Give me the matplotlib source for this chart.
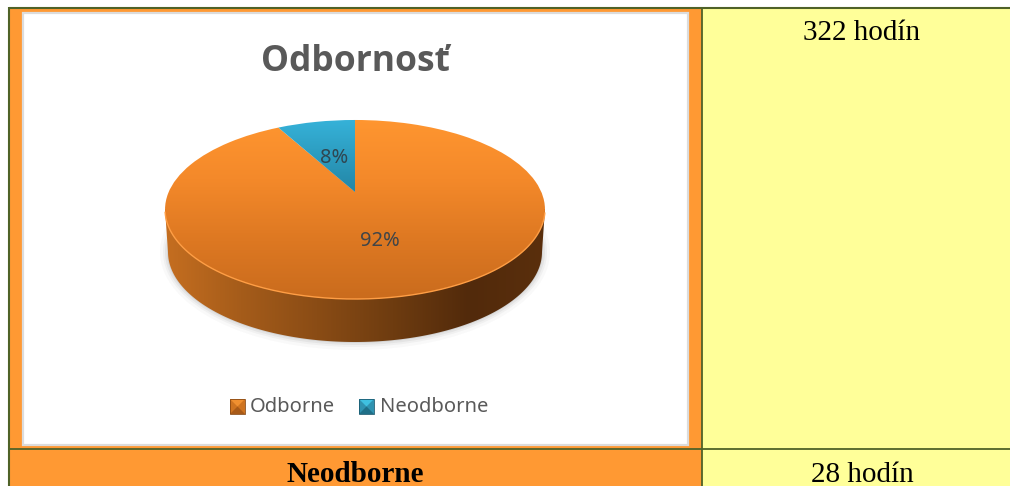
import numpy as np
import matplotlib
matplotlib.use('Agg')
import matplotlib.pyplot as plt
from matplotlib.colors import LinearSegmentedColormap
from matplotlib.patches import Rectangle, Ellipse, Polygon, PathPatch
from matplotlib.path import Path

title = 'Odbornosť'
categories = ['Odborne', 'Neodborne']
hours = [322, 28]
hour_labels = ['322 hodín', '28 hodín']
row_label = 'Neodborne'

W, H = 1010, 486
GREEN = '#4F6228'
ORANGE = '#FF9933'
YELLOW = '#FFFF99'

# projected disc: apex of the slices and perspective of the top face
CX, CY = 355, 192
A, B, K = 186.3, 86.1, 0.1955


def project(xy):
    w = 1 + K * xy[:, 1]
    return np.column_stack([CX + A * xy[:, 0] / w, CY - B * xy[:, 1] / w])


def gradient(ax, colors, extent, horizontal=False, clip=None):
    cmap = LinearSegmentedColormap.from_list('g', colors)
    ramp = np.linspace(0, 1, 256)
    ramp = ramp.reshape(1, -1) if horizontal else ramp.reshape(-1, 1)
    im = ax.imshow(ramp, cmap=cmap, extent=extent, aspect='auto', origin='upper',
                   interpolation='bilinear', vmin=0, vmax=1, zorder=2)
    if clip is not None:
        im.set_clip_path(clip)
    return im


def legend_key(ax, x, y, s, top, mid, bottom, dark):
    ax.add_patch(Rectangle((x, y), s, s, fc=mid, ec='none'))
    c = (x + s / 2, y + s / 2)
    ax.add_patch(Polygon([(x, y), (x + s, y), c], fc=top, ec='none'))
    ax.add_patch(Polygon([(x, y + s), (x + s, y + s), c], fc=bottom, ec='none'))
    ax.add_patch(Rectangle((x, y), s, s, fc='none', ec=dark, lw=0.6))


fig = plt.figure(figsize=(W / 100, H / 100), dpi=100)
ax = fig.add_axes([0, 0, 1, 1])

# table cells
ax.add_patch(Rectangle((9, 8), 693, 441, fc=ORANGE, ec='none'))
ax.add_patch(Rectangle((702, 8), 308, 441, fc=YELLOW, ec='none'))
ax.add_patch(Rectangle((9, 449), 693, 37, fc=ORANGE, ec='none'))
ax.add_patch(Rectangle((702, 449), 308, 37, fc=YELLOW, ec='none'))
ax.plot([8.5, 1010], [8, 8], color=GREEN, lw=1.5, solid_capstyle='butt')
ax.plot([9, 9], [7, 486], color=GREEN, lw=1.5, solid_capstyle='butt')
ax.plot([702, 702], [7, 486], color=GREEN, lw=1.3, solid_capstyle='butt')
ax.plot([8, 1010], [449, 449], color=GREEN, lw=1.3, solid_capstyle='butt')

# chart box
ax.add_patch(Rectangle((23, 13), 665, 432, fc='white', ec='#DCDCDC', lw=1.6))

# soft shadow under the disc
for grow, alpha in [(8, 0.03), (5, 0.05), (3, 0.07), (1, 0.10)]:
    ax.add_patch(Ellipse((355, 252), 2 * (187 + grow), 2 * (90 + grow), fc='#505050',
                         ec='none', alpha=alpha))

# side of the disc
t = np.linspace(np.pi, 0, 200)
side = np.column_stack([355 + 187 * np.cos(t), 252 + 90 * np.sin(t)])
side = np.vstack([[165, 209], side, [545, 209]])
side_patch = Polygon(side, fc='none', ec='none')
ax.add_patch(side_patch)
gradient(ax, ['#C56E20', '#A55C1A', '#8A4C15', '#6E3C10', '#522A0B', '#5A2F0D'],
         (165, 545, 345, 205), horizontal=True, clip=side_patch)

# slices come from the hours through pie, then get the projected shape
pie_ax = fig.add_axes([0, 0, 0.1, 0.1])
wedges, _, autotexts = pie_ax.pie(hours, labels=None, autopct='%.0f%%', startangle=90,
                                  counterclock=False, radius=1)
pie_ax.set_visible(False)

face_colors = [['#FF9630', '#F4892A', '#DD7822', '#C96B1D'], ['#36B3DA', '#2386A6']]
face_extents = [(160, 550, 302, 118), (270, 360, 192, 118)]
for wedge, cols, ext in zip(wedges, face_colors, face_extents):
    p = wedge.get_path()
    patch = PathPatch(Path(project(p.vertices), p.codes), fc='none', ec='none')
    ax.add_patch(patch)
    gradient(ax, cols, ext, clip=patch)

# light rim on the top face
t = np.linspace(0, 2 * np.pi, 400)
rim = project(np.column_stack([np.cos(t), np.sin(t)]))
low = rim[:, 1] > 212
ax.plot(np.where(low, rim[:, 0], np.nan), rim[:, 1], color='#FF9E45', lw=1, zorder=3)

# labels
ax.text(380, 241, autotexts[0].get_text(), family='Noto Sans', fontsize=14.5, color='#404548',
        ha='center', va='center', zorder=5)
ax.text(334, 158, autotexts[1].get_text(), family='Noto Sans', fontsize=14.5, color='#2F4752',
        ha='center', va='center', zorder=5)
ax.text(355, 62, title, family='Open Sans', weight='bold', fontsize=25.5, color='#595959',
        ha='center', va='center')

# legend
legend_key(ax, 230, 399, 15, '#F09030', '#CF7420', '#A85A18', '#8A4A14')
legend_key(ax, 359, 399, 15, '#3FC0E0', '#2F92B0', '#1F6F88', '#1A5A70')
ax.text(250, 406.5, categories[0], family='Noto Sans', fontsize=14.5, color='#595959',
        ha='left', va='center')
ax.text(380, 406.5, categories[1], family='Noto Sans', fontsize=14.5, color='#595959',
        ha='left', va='center')

# table text
ax.text(862, 33, hour_labels[0], family='Liberation Serif', fontsize=21, color='black',
        ha='center', va='center')
ax.text(862, 475, hour_labels[1], family='Liberation Serif', fontsize=21, color='black',
        ha='center', va='center')
ax.text(355, 474, row_label, family='Liberation Serif', weight='bold', fontsize=21, color='black',
        ha='center', va='center')

ax.set_xlim(0, W)
ax.set_ylim(H, 0)
ax.axis('off')
fig.savefig('out.png', dpi=100, facecolor='white')
